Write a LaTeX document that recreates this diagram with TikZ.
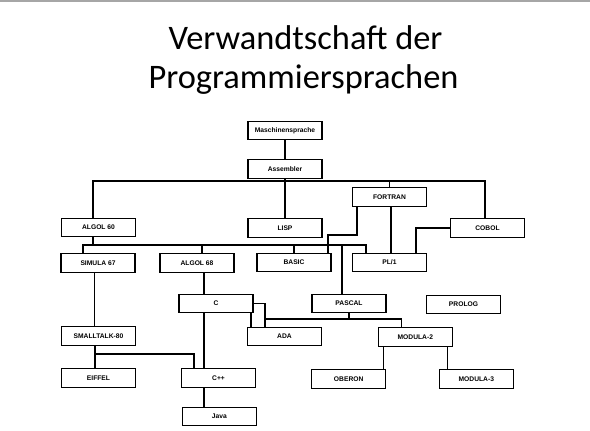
\documentclass[tikz,border=0pt]{standalone}
\usepackage{fontspec}
\usepackage{tikz}
\newfontfamily\titlefont{Carlito}
\newfontfamily\langfont{Liberation Sans}

\begin{document}
\begin{tikzpicture}[x=1pt, y=-1pt,
    lang/.style={draw, line width=1.3pt, minimum width=74pt, minimum height=18.5pt,
        inner sep=0pt, font=\langfont\bfseries\fontsize{6.7}{8}\selectfont},
    link/.style={line width=1.3pt},
    titletext/.style={anchor=base, font=\titlefont\fontsize{34.4}{40}\selectfont}]

    \useasboundingbox (0,0) rectangle (590,431);

    % Top rule of the slide
    \draw[gray!70, line width=2pt] (0,1) -- (590,1);

    % Title
    \node[titletext] (title1) at (305.5,49.3) {Verwandtschaft der};
    \node[titletext] (title2) at (303.5,88.3) {Programmiersprachen};

    % --- Languages ---
    \node[lang] (masch) at (285,130.5) {Maschinensprache};
    \node[lang] (asm) at (285,169) {Assembler};

    \node[lang] (fortran) at (389.5,197) {FORTRAN};
    \node[lang] (algol60) at (98.5,227.5) {ALGOL 60};
    \node[lang] (lisp) at (285,228) {LISP};
    \node[lang] (cobol) at (487.5,228) {COBOL};

    \node[lang] (simula) at (98,263) {SIMULA 67};
    \node[lang] (algol68) at (197,263) {ALGOL 68};
    \node[lang] (basic) at (294,262.5) {BASIC};
    \node[lang] (pl1) at (389.5,262.5) {PL/1};

    \node[lang] (c) at (216,303.5) {C};
    \node[lang] (pascal) at (349,303.5) {PASCAL};
    \node[lang] (prolog) at (463.5,304.5) {PROLOG};

    \node[lang] (small) at (98.5,336) {SMALLTALK-80};
    \node[lang] (ada) at (284.5,336.5) {ADA};
    \node[lang] (modula2) at (415.3,337) {MODULA-2};

    \node[lang] (eiffel) at (98.5,378) {EIFFEL};
    \node[lang] (cpp) at (218.5,378) {C++};
    \node[lang] (oberon) at (348.7,379) {OBERON};
    \node[lang] (modula3) at (476.3,379) {MODULA-3};

    \node[lang] (java) at (219.3,416.5) {Java};

    % --- Connections ---
    % Maschinensprache -> Assembler -> LISP
    \draw[link] (masch) -- (asm);
    \draw[link] (asm) -- (lisp);

    % Bus below Assembler: ALGOL 60, FORTRAN, COBOL
    \coordinate (topbus) at (285,181);
    \draw[link] ([xshift=-5.5pt]algol60.north) |- (topbus) -| ([xshift=-2.5pt]cobol.north);
    \draw[link] (fortran.north) -- (fortran.north |- topbus);

    % Bus below ALGOL 60
    \coordinate (algolbus) at (93,245);
    \draw[link] ([xshift=-5.5pt]algol60.south) -- (algolbus);
    \draw[link] ([xshift=-15pt]simula.north) |- (algolbus) -| ([xshift=-23.5pt]pl1.north);
    \coordinate (a68top) at ([xshift=5pt]algol68.north);
    \draw[link] (a68top) -- (a68top |- algolbus);
    \draw[link] (basic.north) -- (basic.north |- algolbus);
    \coordinate (pastop) at ([xshift=-7pt]pascal.north);
    \draw[link] (pastop) -- (pastop |- algolbus);

    % FORTRAN -> BASIC, PL/1 ; COBOL -> PL/1
    \coordinate (fbknee) at (328,235);
    \draw[link] ([xshift=-32.5pt]fortran.south) |- (fbknee) -- (fbknee |- basic.north);
    \draw[link] ([xshift=1.5pt]fortran.south) -- ([xshift=1.5pt]pl1.north);
    \draw[link] (cobol.west) -| ([xshift=26.5pt]pl1.north);

    % SIMULA 67 -> SMALLTALK-80 ; ALGOL 68 -> C
    \coordinate (sst) at ([xshift=-3.5pt]simula.south);
    \draw[link] (sst) -- (sst |- small.north);
    \coordinate (cstem) at ([xshift=7pt]algol68.south);
    \draw[link] (cstem) -- (cstem |- c.north);

    % C -> ADA
    \coordinate (cada) at ([xshift=35pt]c.south);
    \draw[link] (cada) -- (cada |- ada.north);
    \draw[link] (c.east) -| ([xshift=-19.5pt]ada.north);

    % PASCAL -> ADA, MODULA-2
    \coordinate (pasbus) at (349,319);
    \draw[link] (pascal.south) -- (pasbus);
    \draw[link] ([xshift=-19.5pt]ada.north) |- (pasbus) -| ([xshift=-13.5pt]modula2.north);

    % MODULA-2 -> OBERON, MODULA-3
    \coordinate (mo) at ([xshift=-32pt]modula2.south);
    \draw[link] (mo) -- (mo |- oberon.north);
    \coordinate (mm) at ([xshift=32pt]modula2.south);
    \draw[link] (mm) -- (mm |- modula3.north);

    % SMALLTALK-80 -> EIFFEL, C++
    \coordinate (se) at ([xshift=-3.5pt]small.south);
    \draw[link] (se) -- (se |- eiffel.north);
    \coordinate (smallbus) at (95,354);
    \draw[link] (smallbus) -| ([xshift=-24.5pt]cpp.north);

    % C -> C++ -> Java
    \coordinate (ccpp) at ([xshift=-12pt]c.south);
    \draw[link] (ccpp) -- (ccpp |- cpp.north);
    \draw[link] (ccpp |- cpp.south) -- (ccpp |- java.north);

\end{tikzpicture}
\end{document}
